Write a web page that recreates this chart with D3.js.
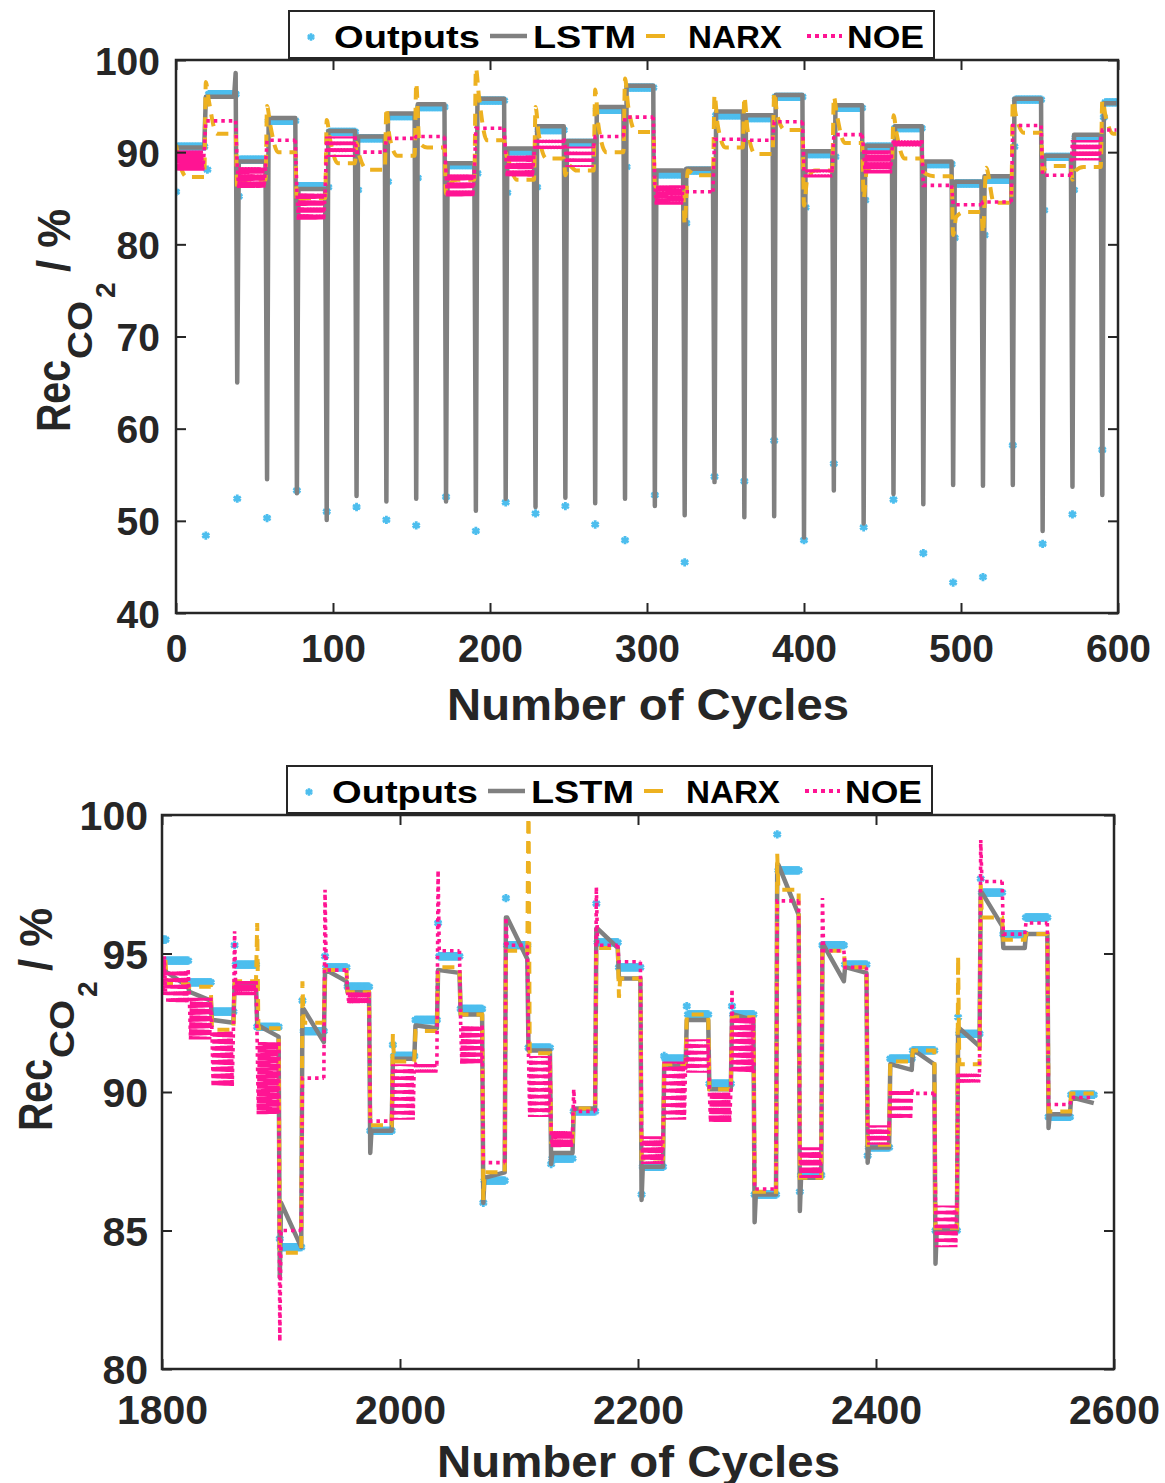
<!DOCTYPE html>
<html><head><meta charset="utf-8">
<script src="https://cdn.jsdelivr.net/npm/d3@7"></script>
<style>body{margin:0;background:#fff;} svg{display:block;font-family:"Liberation Sans",Arial,sans-serif;font-weight:bold;}</style>
</head><body><svg id="c" width="1165" height="1483"></svg>
<script>
// ---------------- TOP PANEL DATA (cycles 0-600) ----------------
const topXTicks=[0,100,200,300,400,500,600];
const topYTicks=[40,50,60,70,80,90,100];
const topBounds=[0,19,39,58,77,96,115,134,153,172,191,210,229,248,267,286,305,324,343,362,381,400,419,438,457,476,495,514,533,552,571,590,600];
const topOut=[90.6,96.3,89.2,93.4,86.3,92.2,91.5,93.9,94.9,88.6,95.6,90.1,92.4,91.0,94.6,97.0,87.6,88.0,94.0,93.7,96.0,89.8,94.8,90.6,92.6,88.7,86.6,87.0,95.7,89.5,91.6,95.4];
const topOutDrop=[85.7,48.4,52.4,50.3,53.3,51.0,51.5,50.1,49.5,52.6,48.9,52.0,50.8,51.6,49.6,47.9,52.8,45.5,54.8,54.3,58.7,47.9,56.2,49.3,52.3,46.5,43.3,43.9,58.2,47.5,50.7,57.7];
const topOutRecover=[null,88.1,85.2,null,null,86.2,85.9,86.8,87.2,null,87.7,85.6,86.2,null,null,88.4,null,82.3,null,null,null,84.0,89.5,84.8,null,null,80.7,81.0,90.6,83.7,85.9,93.8];
const topLstm=[90.5,96.0,89.0,93.7,86.0,92.3,91.7,94.2,95.2,88.8,95.8,90.4,92.8,91.2,94.9,97.2,88.0,88.2,94.4,94.0,96.2,90.1,95.1,90.7,92.8,89.0,86.8,87.4,95.8,89.6,91.9,95.3];
const topLstmDrop=[null,null,65.0,54.5,53.0,50.1,52.7,52.1,52.4,52.1,51.1,52.4,51.5,52.5,51.9,52.4,51.6,50.6,54.2,50.4,50.5,48.2,53.3,49.7,52.9,51.8,53.9,53.8,53.9,48.9,53.7,52.8];
const topLstmPeak=[null,98.6,null,null,null,null,null,null,null,null,null,null,null,null,null,null,null,null,null,null,null,null,null,null,null,null,null,null,null,null,null,null];
const topNarxS=[90.8,97.6,86.0,95.0,84.5,93.5,91.0,94.8,97.5,85.5,99.1,90.0,94.9,87.5,96.8,98.0,86.5,82.2,96.2,96.0,96.5,84.2,96.0,85.0,94.0,88.0,81.0,81.2,95.6,87.9,87.0,95.6];
const topNarxP=[89.0,95.5,86.5,93.0,84.8,91.5,89.5,91.7,91.0,86.5,96.0,89.0,92.0,88.6,93.0,95.0,86.0,88.0,93.0,92.5,94.0,87.0,94.0,88.0,92.0,87.6,83.0,88.3,94.0,88.3,88.0,94.0];
const topNarxL=[87.3,92.0,87.0,90.0,85.0,88.8,88.1,89.6,90.5,87.0,91.3,87.0,89.3,88.0,90.0,92.2,86.0,87.5,90.5,89.8,92.4,88.0,91.0,88.5,89.3,87.4,83.5,84.5,92.1,88.5,88.4,92.0];
const topNoeHi=[90.2,93.4,88.4,91.3,85.6,91.7,90.0,91.5,91.7,87.7,92.6,89.7,91.5,90.6,91.7,93.8,86.4,85.7,91.4,91.3,93.3,88.1,91.9,90.2,91.3,86.4,84.3,84.6,92.9,87.5,91.3,92.4];
const topNoeLo=[88.0,93.4,86.1,91.3,82.6,89.5,90.0,91.5,91.7,85.1,92.6,87.3,90.2,88.4,91.7,93.8,84.3,85.7,91.4,91.3,93.3,87.3,91.9,87.7,90.6,86.4,84.3,84.6,92.9,87.5,89.1,92.4];

// ---------------- BOTTOM PANEL DATA (cycles 1800-2600) ----------------
const botXTicks=[1800,2000,2200,2400,2600];
const botYTicks=[80,85,90,95,100];
const botBounds=[1800,1804,1823,1842,1861,1880,1899,1918,1937,1956,1975,1994,2013,2032,2051,2070,2089,2108,2127,2146,2165,2184,2203,2222,2241,2260,2279,2298,2317,2336,2355,2374,2393,2412,2431,2450,2469,2488,2507,2526,2545,2564,2584];
const botOut=[95.5,94.74,93.96,92.9,94.6,92.35,84.4,92.2,94.5,93.8,88.6,91.3,92.6,94.9,93.0,86.8,95.3,91.6,87.6,89.3,95.4,94.5,87.3,91.2,92.8,90.3,92.8,86.3,98.0,87.0,95.3,94.6,88.0,91.2,91.5,85.0,92.1,97.2,95.7,96.3,89.1,89.9];
const botOutStart=[95.5,94.74,93.96,92.9,95.3,92.35,84.7,93.3,94.9,93.8,88.6,91.7,92.6,96.1,93.0,86.0,97.0,91.6,87.4,89.3,96.8,94.5,86.3,91.3,93.1,90.3,93.1,86.3,99.3,86.4,95.3,94.6,87.7,91.2,91.5,85.0,92.7,97.7,95.7,96.3,89.1,89.9];
const botLstmA=[94.5,94.3,93.6,92.6,93.9,92.4,86.0,93.0,94.4,93.6,88.6,91.2,92.4,94.4,92.8,86.9,96.3,91.5,87.8,89.4,95.9,94.1,87.3,91.0,92.6,90.1,92.8,86.3,98.2,86.9,95.3,94.5,88.0,91.0,91.5,85.0,92.3,97.2,95.2,95.7,89.2,89.8];
const botLstmB=[94.4,93.8,93.3,92.5,93.9,92.0,84.4,91.8,94.0,93.6,88.6,91.2,92.3,94.3,92.8,87.1,94.8,91.5,87.8,89.4,95.2,94.1,87.3,90.9,92.6,90.1,92.6,86.3,96.4,86.9,94.0,94.3,88.0,90.8,91.0,85.0,91.65,96.0,95.2,95.7,89.2,89.6];
const botLstmDip=[null,null,null,null,null,null,83.3,null,null,null,87.8,null,null,null,null,86.0,null,null,87.4,null,null,null,86.1,null,null,null,null,85.3,null,85.7,null,null,87.45,null,null,83.8,null,null,null,null,88.7,null];
const botNarx=[94.7,93.9,93.8,92.25,94.0,92.3,84.2,92.5,94.4,93.6,88.8,91.1,92.2,94.5,92.8,87.1,95.1,91.4,88.2,89.4,95.2,94.1,87.6,91.0,92.8,90.1,92.7,86.4,97.3,86.9,95.1,94.5,88.1,91.1,91.5,85.1,91.0,96.3,95.5,95.7,89.3,89.95];
const botNarxStart=[null,null,null,null,null,96.1,null,94.0,null,null,null,92.1,null,null,null,86.1,null,101,null,null,null,93.4,null,null,null,null,null,null,98.6,null,null,null,null,null,null,null,94.9,97.5,null,null,null,null];
const botNoeHi=[94.9,94.4,93.4,92.2,94.0,91.8,85.0,90.5,94.4,93.6,88.95,91.0,91.0,95.1,92.4,87.45,95.3,91.3,88.6,89.3,95.3,94.7,88.4,91.1,91.9,90.0,92.7,86.5,96.9,88.0,95.1,94.5,88.8,90.1,89.95,85.9,90.7,97.6,95.7,96.1,89.55,89.8];
const botNoeLo=[93.5,93.2,91.9,90.2,93.5,89.2,85.0,90.5,94.4,93.2,88.95,89.0,90.7,95.1,91.0,87.45,95.3,89.1,88.0,89.3,95.3,94.7,87.4,89.0,90.7,88.9,90.7,86.5,96.9,86.9,95.1,94.5,88.1,89.0,89.95,84.4,90.3,97.6,95.7,96.1,89.55,89.8];
const botNoeSpike=[null,null,null,null,95.8,null,81.0,null,97.3,null,null,null,null,98.0,null,null,96.3,null,null,90.1,97.4,null,null,null,null,null,93.7,null,null,null,97.0,null,null,null,null,null,null,99.1,null,null,null,null];

const legendNames=["Outputs","LSTM","NARX","NOE"];
const colOut="#4DBEEE", colLstm="#808080", colNarx="#EDB120", colNoe="#FF1493", ink="#262626";

// ---------- series assembly from the block tables ----------
function outputPts(bounds, level, first, second){
  const p=[];
  for(let i=0;i<bounds.length-1;i++)
    for(let c=bounds[i];c<bounds[i+1];c++){
      let v=level[i];
      if(c===bounds[i] && first[i]!=null) v=first[i];
      else if(second && c===bounds[i]+1 && second[i]!=null) v=second[i];
      p.push([c, v]);
    }
  return p;
}
function topLstmPts(){
  const p=[];
  for(let i=0;i<topBounds.length-1;i++){
    const b0=topBounds[i], b1=topBounds[i+1];
    p.push([b0, topLstmDrop[i]!=null?topLstmDrop[i]:topLstm[i]]);
    p.push([b0+1, topLstm[i]]);
    if(topLstmPeak[i]!=null){p.push([b1-2, topLstm[i]]);p.push([b1-1, topLstmPeak[i]]);}
    else p.push([b1-1, topLstm[i]]);
  }
  return p;
}
function topNarxPts(){
  const p=[];
  for(let i=0;i<topBounds.length-1;i++){
    const b0=topBounds[i], b1=topBounds[i+1];
    p.push([b0, topNarxS[i]]); p.push([b0+2, topNarxP[i]]); p.push([b0+7, topNarxL[i]]); p.push([b1-1, topNarxL[i]]);
  }
  return p;
}
// NOE split into per-block segments (each starts at the previous block's last point)
function noeSegs(bounds, hi, lo, spike){
  const segs=[]; let prev=null;
  for(let i=0;i<bounds.length-1;i++){
    const b0=bounds[i], b1=bounds[i+1];
    const sp = spike ? spike[i] : null;
    const p = prev ? [prev] : [];
    const osc = hi[i]!==lo[i];
    if(osc){
      for(let c=b0;c<b1;c++) p.push([c, (c===b0 && sp!=null) ? sp : ((c-b0)%2===0?hi[i]:lo[i])]);
    } else {
      p.push([b0, sp!=null?sp:hi[i]]); p.push([b0+1, hi[i]]); p.push([b1-1, hi[i]]);
    }
    segs.push({pts:p, osc, hi:hi[i], lo:lo[i]});
    prev=p[p.length-1];
  }
  return segs;
}
function botLstmPts(){
  const p=[];
  for(let i=0;i<botBounds.length-1;i++){
    const b0=botBounds[i], b1=botBounds[i+1];
    p.push([b0, botLstmDip[i]!=null?botLstmDip[i]:botLstmA[i]]); p.push([b0+1, botLstmA[i]]); p.push([b1-1, botLstmB[i]]);
  }
  return p;
}
function botNarxPts(){
  const p=[];
  for(let i=0;i<botBounds.length-1;i++){
    const b0=botBounds[i], b1=botBounds[i+1];
    p.push([b0, botNarxStart[i]!=null?botNarxStart[i]:botNarx[i]]); p.push([b0+1, botNarx[i]]); p.push([b1-1, botNarx[i]]);
  }
  return p;
}

const svg=d3.select("#c");
const defs=svg.append("defs");

function panel(cfg){
  const x=d3.scaleLinear().domain(cfg.xDomain).range([cfg.left,cfg.right]);
  const y=d3.scaleLinear().domain(cfg.yDomain).range([cfg.bottom,cfg.top]);
  defs.append("clipPath").attr("id",cfg.id).append("rect")
    .attr("x",cfg.left).attr("y",cfg.top).attr("width",cfg.right-cfg.left).attr("height",cfg.bottom-cfg.top);
  const plot=svg.append("g").attr("clip-path",`url(#${cfg.id})`);
  const sym=d3.symbol(d3.symbolAsterisk, 48);
  plot.append("g").selectAll("path").data(cfg.out).join("path")
    .attr("transform",d=>`translate(${x(d[0])},${y(d[1])})`).attr("d",sym)
    .attr("fill","none").attr("stroke",colOut).attr("stroke-width",2.8);
  const lin=d3.line().x(d=>x(d[0])).y(d=>y(d[1]));
  plot.append("path").attr("d",lin(cfg.lstm)).attr("fill","none").attr("stroke",colLstm)
    .attr("stroke-width",4.5).attr("stroke-linejoin","round");
  const narxLine=d3.line().x(d=>x(d[0])).y(d=>y(d[1])).curve(cfg.narxCurve);
  plot.append("path").attr("d",narxLine(cfg.narx)).attr("fill","none").attr("stroke",colNarx)
    .attr("stroke-width",4).attr("stroke-dasharray","12,8");
  const dx=x(cfg.xDomain[0]+1)-x(cfg.xDomain[0]);
  cfg.noe.forEach(s=>{
    let da="3.5,4";
    if(s.osc){
      const dy=Math.abs(y(s.hi)-y(s.lo)); const L=Math.sqrt(dx*dx+dy*dy);
      const n=Math.max(1,Math.round(L/7)); const per=L/n;
      da=`${(per*0.5).toFixed(2)},${(per*0.5).toFixed(2)}`;
    }
    plot.append("path").attr("d",lin(s.pts)).attr("fill","none").attr("stroke",colNoe)
      .attr("stroke-width",3.6).attr("stroke-dasharray",da);
  });

  // axes (inward ticks on all four sides)
  const styleAx=g=>{g.select(".domain").remove(); g.attr("color",ink).attr("font-family",null).attr("font-size",null);
    g.selectAll(".tick line").attr("stroke-width",2);};
  const bx=svg.append("g").attr("transform",`translate(0,${cfg.bottom})`)
    .call(d3.axisBottom(x).tickValues(cfg.xTicks).tickSizeInner(-10).tickSizeOuter(0).tickFormat(d3.format("d"))).call(styleAx);
  bx.selectAll("text").attr("y",cfg.xTickBase).attr("dy",null).attr("font-size",cfg.tickFont).attr("fill",ink);
  const lx=svg.append("g").attr("transform",`translate(${cfg.left},0)`)
    .call(d3.axisLeft(y).tickValues(cfg.yTicks).tickSizeInner(-10).tickSizeOuter(0).tickFormat(d3.format("d"))).call(styleAx);
  lx.selectAll("text").attr("x",-cfg.yTickPad).attr("dy","0.36em").attr("font-size",cfg.tickFont).attr("fill",ink);
  svg.append("g").attr("transform",`translate(0,${cfg.top})`)
    .call(d3.axisTop(x).tickValues(cfg.xTicks).tickSizeInner(-10).tickSizeOuter(0).tickFormat("")).call(styleAx);
  svg.append("g").attr("transform",`translate(${cfg.right},0)`)
    .call(d3.axisRight(y).tickValues(cfg.yTicks).tickSizeInner(-10).tickSizeOuter(0).tickFormat("")).call(styleAx);
  svg.append("rect").attr("x",cfg.left).attr("y",cfg.top).attr("width",cfg.right-cfg.left).attr("height",cfg.bottom-cfg.top)
    .attr("fill","none").attr("stroke",ink).attr("stroke-width",2.5);

  // x label
  svg.append("text").attr("x",(cfg.xLab[0]+cfg.xLab[1])/2).attr("y",cfg.xLabBase).attr("text-anchor","middle")
    .attr("font-size",44).attr("fill",ink).attr("textLength",cfg.xLab[1]-cfg.xLab[0]).attr("lengthAdjust","spacingAndGlyphs")
    .text("Number of Cycles");
  // y label
  const yl=svg.append("g").attr("transform",`translate(${cfg.yLab[0]},${cfg.yLab[1]}) rotate(-90)`).attr("fill",ink);
  yl.append("text").attr("x",0).attr("y",0).attr("font-size",48).attr("textLength",72).attr("lengthAdjust","spacingAndGlyphs").text("Rec");
  yl.append("text").attr("x",73).attr("y",22).attr("font-size",35).attr("textLength",58).attr("lengthAdjust","spacingAndGlyphs").text("CO");
  yl.append("text").attr("x",134).attr("y",45).attr("font-size",28).text("2");
  yl.append("text").attr("x",160).attr("y",0).attr("font-size",46).attr("textLength",63).attr("lengthAdjust","spacingAndGlyphs").text("/ %");

  // legend
  const L=svg.append("g").attr("transform",`translate(${cfg.leg[0]},${cfg.leg[1]})`);
  L.append("rect").attr("x",0).attr("y",0).attr("width",645).attr("height",47).attr("fill","#fff").attr("stroke",ink).attr("stroke-width",2);
  L.append("path").attr("transform","translate(22,26)").attr("d",d3.symbol(d3.symbolAsterisk,40)()).attr("stroke",colOut).attr("stroke-width",2.6).attr("fill","none");
  L.append("line").attr("x1",201).attr("x2",238).attr("y1",25).attr("y2",25).attr("stroke",colLstm).attr("stroke-width",4.5);
  L.append("line").attr("x1",357).attr("x2",376).attr("y1",25).attr("y2",25).attr("stroke",colNarx).attr("stroke-width",4);
  L.append("line").attr("x1",518).attr("x2",553).attr("y1",25).attr("y2",25).attr("stroke",colNoe).attr("stroke-width",4).attr("stroke-dasharray","4,4");
  const lt=[[45,146],[244,103],[399,94],[558,77]];
  legendNames.forEach((n,i)=>{
    L.append("text").attr("x",lt[i][0]).attr("y",37).attr("font-size",31).attr("fill","#000")
      .attr("textLength",lt[i][1]).attr("lengthAdjust","spacingAndGlyphs").text(n);
  });
}

panel({id:"clipTop",xDomain:[0,600],yDomain:[40,100],left:176,right:1118,top:60,bottom:613,
  xTicks:topXTicks,yTicks:topYTicks,tickFont:39,xTickBase:49,yTickPad:16,
  out:outputPts(topBounds,topOut,topOutDrop,topOutRecover),lstm:topLstmPts(),narx:topNarxPts(),narxCurve:d3.curveMonotoneX,
  noe:noeSegs(topBounds,topNoeHi,topNoeLo,null),
  xLab:[447,849],xLabBase:720,yLab:[70,432],leg:[289,11]});

panel({id:"clipBot",xDomain:[1800,2600],yDomain:[80,100],left:162,right:1114,top:815,bottom:1369,
  xTicks:botXTicks,yTicks:botYTicks,tickFont:41,xTickBase:55,yTickPad:14,
  out:outputPts(botBounds,botOut,botOutStart,null),lstm:botLstmPts(),narx:botNarxPts(),narxCurve:d3.curveLinear,
  noe:noeSegs(botBounds,botNoeHi,botNoeLo,botNoeSpike),
  xLab:[437,840],xLabBase:1477,yLab:[52,1131],leg:[287,766]});
</script></body></html>
